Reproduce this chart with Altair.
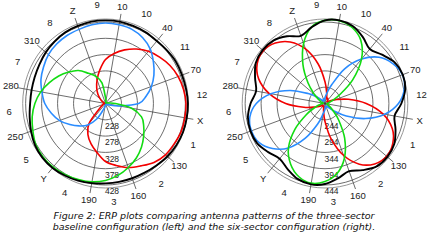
import altair as alt
import pandas as pd

# ---------------- data ----------------
ANGLES = list(range(0, 360, 10))  # bearing, degrees clockwise from north

# three-sector baseline (left); radial labels 228..428
L_RED = [313, 334, 353, 371, 387, 399, 411, 420, 426, 430, 430, 430,
         426, 423, 414, 399, 387, 371, 356, 331, 310, 288, 258, 203,
         190, 187, 184, 181, 181, 184, 190, 199, 215, 233, 255, 282]
L_BLUE = [425, 423, 420, 411, 396, 374, 353, 331, 307, 282, 221, 190,
          184, 181, 181, 181, 181, 181, 184, 187, 199, 233, 264, 285,
          307, 331, 350, 368, 380, 393, 402, 411, 416, 419, 420, 423]
L_GREEN = [196, 184, 181, 181, 181, 181, 181, 184, 187, 209, 261, 298,
           316, 334, 353, 371, 387, 402, 414, 422, 426, 430, 433, 433,
           430, 420, 411, 399, 384, 365, 347, 328, 310, 285, 267, 242]
L_BLACK = [433, 433, 431, 430, 428, 430, 433, 433, 434, 436, 436, 436,
           434, 431, 426, 423, 422, 422, 423, 426, 430, 433, 436, 436,
           433, 426, 419, 414, 413, 414, 417, 422, 426, 430, 431, 433]

# six-sector configuration (right); radial labels 244..444
R_GREEN = [449, 452, 442, 418, 372, 307, 246, 215, 206, 203, 200, 203,
           209, 225, 261, 317, 372, 412, 433, 442, 433, 409, 372, 317,
           261, 225, 209, 203, 200, 206, 215, 237, 277, 332, 390, 433]
R_BLUE = [212, 225, 255, 317, 372, 415, 439, 452, 446, 424, 384, 329,
          271, 228, 209, 203, 206, 203, 212, 225, 261, 317, 372, 409,
          433, 439, 433, 409, 366, 311, 255, 222, 206, 203, 209, 203]
R_RED = [261, 225, 209, 212, 206, 203, 209, 228, 268, 323, 378, 418,
         439, 446, 436, 409, 363, 304, 249, 219, 206, 203, 206, 203,
         209, 225, 261, 317, 372, 415, 439, 446, 436, 412, 372, 317]
R_BLACK = [449, 453, 447, 430, 412, 427, 446, 453, 449, 433, 415, 429,
           444, 449, 446, 430, 415, 427, 441, 446, 441, 427, 415, 426,
           439, 442, 439, 427, 413, 427, 444, 449, 446, 432, 415, 432]

RINGS_L = [228, 278, 328, 378, 428]
RINGS_R = [244, 294, 344, 394, 444]
BASE_L = 178
BASE_R = 194

SPOKE_ANGLES = [10, 40, 70, 100, 130, 160, 190, 220, 250, 280, 310, 340]
SPOKE_LABELS = ["10", "40", "70", "X", "130", "160", "190", "Y", "250", "280", "310", "Z"]
SECTOR_ANGLES = [355, 25, 55, 85, 115, 145, 175, 205, 235, 265, 295, 325]
SECTOR_LABELS = ["9", "10", "11", "12", "1", "2", "3", "4", "5", "6", "7", "8"]

CAPTION = [
    "Figure 2: ERP plots comparing antenna patterns of the three-sector",
    "baseline configuration (left) and the six-sector configuration (right).",
]

# ---------------- layout ----------------
CX = {"L": 105.5, "R": 325.0}
CY = 103.5
K = 16.3 / 50.0   # pixels per ERP unit
XS = 0.98         # slight horizontal squash of the original
FRAME_R = 84.5
SPOKE_R = 91.0
LABEL_R = 98.0
SECTOR_R = 98.8

XSCALE = alt.Scale(domain=[0, 430], nice=False, zero=False)
YSCALE = alt.Scale(domain=[0, 250], nice=False, zero=False, reverse=True)
FONT = "Liberation Sans"

cx_expr = f"(datum.panel == 'L' ? {CX['L']} : {CX['R']})"
base_expr = f"(datum.panel == 'L' ? {BASE_L} : {BASE_R})"


def polar(chart, rfield="rpx", xname="x", yname="y"):
    return chart.transform_calculate(
        **{
            xname: f"{cx_expr} + {XS} * datum.{rfield} * sin(datum.ang * PI / 180)",
            yname: f"{CY} - datum.{rfield} * cos(datum.ang * PI / 180)",
        }
    )


def enc_xy(xname="x", yname="y"):
    return dict(
        x=alt.X(f"{xname}:Q", scale=XSCALE, axis=None),
        y=alt.Y(f"{yname}:Q", scale=YSCALE, axis=None),
    )


# curves table
rows = []
for panel, series, vals in [
    ("L", "red", L_RED), ("L", "blue", L_BLUE), ("L", "green", L_GREEN), ("L", "black", L_BLACK),
    ("R", "red", R_RED), ("R", "blue", R_BLUE), ("R", "green", R_GREEN), ("R", "black", R_BLACK),
]:
    for i, (a, v) in enumerate(zip(ANGLES, vals)):
        rows.append(dict(panel=panel, series=series, key=panel + series, idx=i, ang=a, val=v))
curves = pd.DataFrame(rows)

# grid rings table
grid_rows = []
for panel, rings, base in [("L", RINGS_L, BASE_L), ("R", RINGS_R, BASE_R)]:
    for j, rv in enumerate(rings):
        for a in range(0, 360, 5):
            grid_rows.append(dict(panel=panel, key=f"{panel}{j}", ang=a, rpx=(rv - base) * K, kind="ring"))
    for a in range(0, 360, 5):
        grid_rows.append(dict(panel=panel, key=f"{panel}f", ang=a, rpx=FRAME_R, kind="frame"))
grid = pd.DataFrame(grid_rows)

spokes = pd.DataFrame(
    [dict(panel=p, ang=a, label=l, rpx=SPOKE_R, rl=LABEL_R)
     for p in ("L", "R") for a, l in zip(SPOKE_ANGLES, SPOKE_LABELS)]
)
sectors = pd.DataFrame(
    [dict(panel=p, ang=a, label=l, rl=SECTOR_R)
     for p in ("L", "R") for a, l in zip(SECTOR_ANGLES, SECTOR_LABELS)]
)
ring_labels = pd.DataFrame(
    [dict(panel=p, label=str(rv), val=rv)
     for p, rings in (("L", RINGS_L), ("R", RINGS_R)) for rv in rings]
)
caption = pd.DataFrame([dict(line=i, text=t) for i, t in enumerate(CAPTION)])

# ---------------- layers ----------------
ring_layer = polar(alt.Chart(grid[grid.kind == "ring"])).mark_line(
    interpolate="linear-closed", stroke="#3c3c3c", strokeWidth=0.75
).encode(**enc_xy(), detail="key:N", order="ang:Q")

frame_layer = polar(alt.Chart(grid[grid.kind == "frame"])).mark_line(
    interpolate="linear-closed", stroke="#8a8a8a", strokeWidth=0.9
).encode(**enc_xy(), detail="key:N", order="ang:Q")

spoke_layer = alt.Chart(spokes).transform_calculate(
    x0=f"{cx_expr}", y0=f"{CY}",
    x1=f"{cx_expr} + {XS} * datum.rpx * sin(datum.ang * PI / 180)",
    y1=f"{CY} - datum.rpx * cos(datum.ang * PI / 180)",
).mark_rule(stroke="#3c3c3c", strokeWidth=0.75).encode(
    x=alt.X("x0:Q", scale=XSCALE, axis=None),
    y=alt.Y("y0:Q", scale=YSCALE, axis=None),
    x2="x1:Q", y2="y1:Q",
)

spoke_text = polar(alt.Chart(spokes), rfield="rl", xname="tx", yname="ty").mark_text(
    font=FONT, fontSize=9.5, color="#222", align="center", baseline="middle"
).encode(**enc_xy("tx", "ty"), text="label:N")

sector_text = polar(alt.Chart(sectors), rfield="rl", xname="tx", yname="ty").mark_text(
    font=FONT, fontSize=9.5, color="#222", align="center", baseline="middle"
).encode(**enc_xy("tx", "ty"), text="label:N")

ring_text = alt.Chart(ring_labels).transform_calculate(
    tx=f"{cx_expr} + 6.5",
    ty=f"{CY} + (datum.val - {base_expr}) * {K} + 6.3",
).mark_text(
    font=FONT, fontSize=8.5, color="#222", align="center", baseline="middle"
).encode(**enc_xy("tx", "ty"), text="label:N")

curve_base = alt.Chart(curves).transform_calculate(
    rpx=f"(datum.val - {base_expr}) * {K}"
)
color_lines = polar(curve_base.transform_filter("datum.series != 'black'")).mark_line(
    interpolate="cardinal-closed", strokeWidth=1.6
).encode(
    **enc_xy(),
    color=alt.Color("series:N", scale=alt.Scale(domain=["red", "blue", "green"],
                                                range=["#f20000", "#2a8cff", "#12dc12"]),
                    legend=None),
    detail="key:N", order="idx:Q",
)
black_lines = polar(curve_base.transform_filter("datum.series == 'black'")).mark_line(
    interpolate="cardinal-closed", strokeWidth=1.9, stroke="#000000"
).encode(**enc_xy(), detail="key:N", order="idx:Q")

caption_layer = alt.Chart(caption).transform_calculate(
    tx="214", ty="215.5 + datum.line * 11.5"
).mark_text(
    font="DejaVu Sans", fontSize=9.5, fontStyle="italic", color="#111",
    align="center", baseline="middle"
).encode(**enc_xy("tx", "ty"), text="text:N")

chart = alt.layer(
    ring_layer, frame_layer, spoke_layer, ring_text, spoke_text, sector_text,
    color_lines, black_lines, caption_layer,
).properties(
    width=430, height=250, padding=0, autosize=alt.AutoSizeParams(type="none"),
    background="white",
).configure_view(stroke=None)

chart.save("out.html", embed_options={"renderer": "svg", "actions": False})
